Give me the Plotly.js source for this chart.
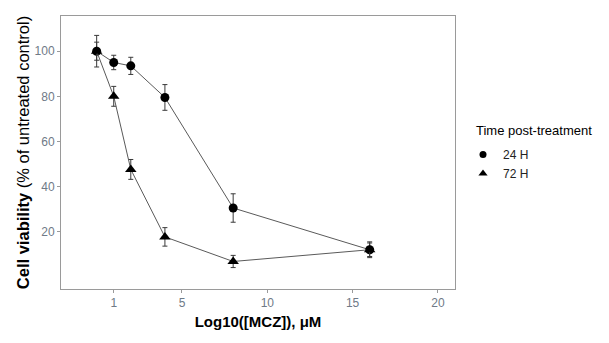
<!DOCTYPE html>
<html>
<head>
<meta charset="utf-8">
<script src="https://cdn.plot.ly/plotly-3.0.1.min.js"></script>
<style>html,body{margin:0;padding:0;background:#fff;}#chart{width:609px;height:343px;}</style>
</head>
<body>
<div id="chart"></div>
<script>
// Data
const conc = [0, 1, 2, 4, 8, 16];
const series = ["24 H", "72 H"];
const viability24 = [100, 95, 93.5, 79.5, 30.5, 12];
const err24 = [7, 3.2, 3.8, 5.7, 6.3, 3.5];
const viability72 = [100, 80, 47.6, 17.7, 6.8, 12];
const err72 = [4, 4.4, 4.4, 4.1, 2.7, 3];
const xTicks = [1, 5, 10, 15, 20];
const yTicks = [20, 40, 60, 80, 100];

const tickColor = '#6f7a87';
const symbols = ['circle', 'triangle-up'];
const sizes = [9, 10];
const mk = (name, y, e, sym, size) => ({
  type: 'scatter', mode: 'lines+markers', name: name, showlegend: false,
  x: conc, y: y,
  line: {color: '#5a5a5a', width: 1},
  marker: {symbol: sym, size: size, color: '#000'},
  error_y: {type: 'data', array: e, visible: true, color: '#3a3a3a', thickness: 1, width: 2.5}
});
const leg = (name, sym, size) => ({
  type: 'scatter', mode: 'markers', name: name, x: [null], y: [null],
  marker: {symbol: sym, size: size - 2, color: '#000'}, showlegend: true
});

const data = [
  mk(series[0], viability24, err24, symbols[0], sizes[0]),
  mk(series[1], viability72, err72, symbols[1], sizes[1]),
  leg(series[0], symbols[0], sizes[0]),
  leg(series[1], symbols[1], sizes[1])
];

const layout = {
  width: 609, height: 343,
  margin: {l: 61, r: 154, t: 16, b: 54},
  paper_bgcolor: '#fff', plot_bgcolor: '#fff',
  font: {family: 'Liberation Sans, Arial, sans-serif', color: '#000'},
  xaxis: {
    range: [-2.09, 21.0], tickvals: xTicks, ticktext: xTicks.map(String),
    showgrid: false, zeroline: false,
    showline: true, mirror: true, linecolor: '#9a9a9a', linewidth: 1,
    ticks: 'outside', ticklen: 3, tickcolor: '#9a9a9a',
    tickfont: {size: 12, color: tickColor},
    title: {text: '<b>Log10([MCZ]), μM</b>', font: {size: 15, color: '#000'}, standoff: 7}
  },
  yaxis: {
    range: [-5.4, 115.6], tickvals: yTicks, ticktext: yTicks.map(String),
    showgrid: false, zeroline: false,
    showline: true, mirror: true, linecolor: '#9a9a9a', linewidth: 1,
    ticks: 'outside', ticklen: 3, tickcolor: '#9a9a9a',
    tickfont: {size: 12, color: tickColor},
    title: {text: '<b>Cell viability</b> (% of untreated control)', font: {size: 16.5, color: '#000'}, standoff: 0}
  },
  showlegend: true,
  legend: {
    x: 0, xref: 'paper', y: 0, yanchor: 'top',
    font: {size: 12, color: '#222'}, tracegroupgap: 4,
    bgcolor: 'rgba(0,0,0,0)'
  },
  annotations: [{
    text: 'Time post-treatment', xref: 'paper', yref: 'paper',
    x: 0, y: 0, xanchor: 'left', yanchor: 'bottom', showarrow: false,
    font: {size: 13, color: '#000'}
  }]
};
layout.legend.x = (463 - 61) / 394;
layout.annotations[0].x = (474 - 61) / 394;
layout.annotations[0].y = (289 - 140) / 273;
layout.legend.y = (289 - 140) / 273;

Plotly.newPlot('chart', data, layout, {displayModeBar: false, staticPlot: true});
</script>
</body>
</html>
